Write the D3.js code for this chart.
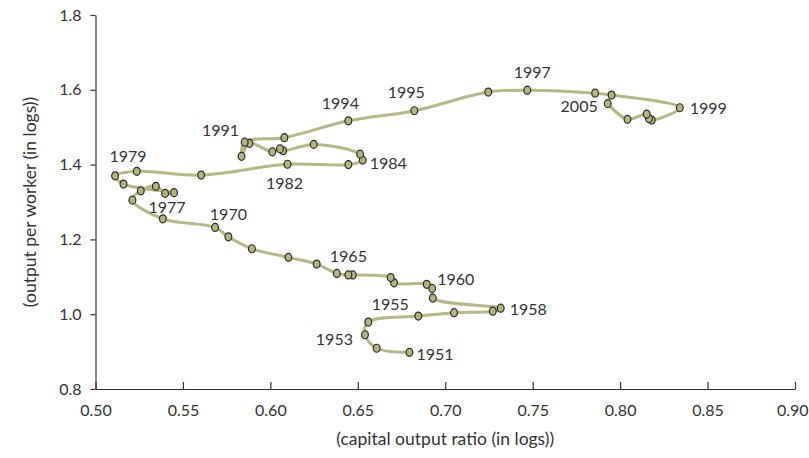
<!DOCTYPE html>
<html>
<head>
<meta charset="utf-8">
<script src="https://cdn.jsdelivr.net/npm/d3@7"></script>
<style>
  html, body { margin: 0; padding: 0; background: #ffffff; }
  svg text { font-family: Lato, "Open Sans", sans-serif; fill: #333333; }
</style>
</head>
<body>
<svg id="chart" width="809" height="458"></svg>
<script>
// Year-by-year path: capital output ratio (x) against output per worker (y), both in logs
const years = [
  1951, 1952, 1953, 1954, 1955, 1956, 1957, 1958, 1959, 1960,
  1961, 1962, 1963, 1964, 1965, 1966, 1967, 1968, 1969, 1970,
  1971, 1972, 1973, 1974, 1975, 1976, 1977, 1978, 1979, 1980,
  1981, 1982, 1983, 1984, 1985, 1986, 1987, 1988, 1989, 1990,
  1991, 1992, 1993, 1994, 1995, 1996, 1997, 1998, 1999, 2000,
  2001, 2002, 2003, 2004, 2005
];
const capitalOutput = [
  0.6795, 0.6608, 0.6541, 0.6560, 0.6846, 0.7050, 0.7272, 0.7317, 0.6929, 0.6925,
  0.6894, 0.6707, 0.6688, 0.6471, 0.6446, 0.6380, 0.6265, 0.6103, 0.5894, 0.5760,
  0.5684, 0.5385, 0.5211, 0.5259, 0.5345, 0.5398, 0.5449, 0.5160, 0.5112, 0.5236,
  0.5604, 0.6098, 0.6446, 0.6528, 0.6513, 0.6248, 0.6073, 0.6055, 0.6011, 0.5880,
  0.5835, 0.5853, 0.6080, 0.6446, 0.6823, 0.7246, 0.7469, 0.7857, 0.7951, 0.8341,
  0.8181, 0.8165, 0.8152, 0.8042, 0.7929
];
const outputPerWorker = [
  0.898, 0.909, 0.945, 0.979, 0.995, 1.004, 1.008, 1.016, 1.043, 1.069,
  1.080, 1.084, 1.098, 1.105, 1.105, 1.109, 1.134, 1.152, 1.175, 1.207,
  1.232, 1.255, 1.305, 1.330, 1.342, 1.323, 1.325, 1.348, 1.370, 1.382,
  1.372, 1.401, 1.400, 1.412, 1.428, 1.454, 1.437, 1.442, 1.434, 1.457,
  1.422, 1.460, 1.472, 1.517, 1.544, 1.594, 1.599, 1.591, 1.586, 1.552,
  1.519, 1.523, 1.535, 1.521, 1.563
];

// Year labels: text, and the year whose point it sits by
const labelText   = ["1951", "1953", "1955", "1958", "1960", "1965", "1970", "1977", "1979",
                     "1982", "1984", "1991", "1994", "1995", "1997", "1999", "2005"];
const labelAnchor = [1951, 1953, 1955, 1958, 1960, 1965, 1970, 1977, 1979,
                     1982, 1984, 1991, 1994, 1995, 1997, 2000, 2005];

const xTicks = [0.50, 0.55, 0.60, 0.65, 0.70, 0.75, 0.80, 0.85, 0.90];
const yTicks = [0.8, 1.0, 1.2, 1.4, 1.6, 1.8];

// Label placement relative to its point: [text-anchor, dx, dy]
const labelPlace = {
  "1951": ["start", 7, 1], "1953": ["end", -12, 4], "1955": ["middle", -28, -13],
  "1958": ["start", 9, 0], "1960": ["start", 5, -10], "1965": ["middle", 0, -19],
  "1970": ["middle", 0, -23], "1977": ["middle", -7, 14], "1979": ["middle", 13, -20],
  "1982": ["middle", -3, 18], "1984": ["start", 7, 2], "1991": ["middle", -21, -27],
  "1994": ["middle", -8, -18], "1995": ["middle", -8, -19], "1997": ["middle", 5, -19],
  "1999": ["start", 10, 0], "2005": ["end", -10, 2]
};

const svg = d3.select("#chart");
const plotLeft = 95.5, plotRight = 795, plotTop = 15, plotBottom = 389;

const x = d3.scaleLinear().domain([0.5, 0.9]).range([plotLeft, plotRight]);
const y = d3.scaleLinear().domain([0.8, 1.8]).range([plotBottom, plotTop]);

const points = years.map((yr, i) => ({ year: yr, cx: capitalOutput[i], ow: outputPerWorker[i] }));

// Axes
const xAxis = d3.axisBottom(x).tickValues(xTicks).tickFormat(d3.format(".2f"))
  .tickSizeInner(-7).tickSizeOuter(0).tickPadding(16);
const yAxis = d3.axisLeft(y).tickValues(yTicks).tickFormat(d3.format(".1f"))
  .tickSizeInner(5).tickSizeOuter(0).tickPadding(9);

const gx = svg.append("g").attr("transform", `translate(0,${plotBottom})`).call(xAxis);
const gy = svg.append("g").attr("transform", `translate(${plotLeft},0)`).call(yAxis);

[gx, gy].forEach(g => {
  g.select(".domain").attr("stroke", "#333").attr("stroke-width", 1.2);
  g.selectAll(".tick line").attr("stroke", "#333").attr("stroke-width", 1.2);
  g.selectAll(".tick text").style("font-family", "Lato, 'Open Sans', sans-serif")
    .style("font-size", "16px").attr("fill", "#333");
});
// keep the last x tick label inside the page edge
gx.selectAll(".tick text").filter(d => d === 0.90).attr("text-anchor", "end").attr("dx", "13");

// Axis titles
svg.append("text")
  .attr("x", (plotLeft + plotRight) / 2).attr("y", 445)
  .attr("text-anchor", "middle")
  .style("font-size", "17.5px")
  .text("(capital output ratio (in logs))");

svg.append("text")
  .attr("transform", `translate(36,${(plotTop + plotBottom) / 2}) rotate(-90)`)
  .attr("text-anchor", "middle")
  .style("font-size", "17.5px")
  .text("(output per worker (in logs))");

// Connecting curve
const line = d3.line()
  .x(d => x(d.cx)).y(d => y(d.ow))
  .curve(d3.curveCatmullRom.alpha(0.5));

svg.append("path")
  .datum(points)
  .attr("d", line)
  .attr("fill", "none")
  .attr("stroke", "#b7b883")
  .attr("stroke-width", 3);

// Yearly markers
svg.append("g").selectAll("ellipse")
  .data(points)
  .join("ellipse")
  .attr("cx", d => x(d.cx))
  .attr("cy", d => y(d.ow))
  .attr("rx", 3.4).attr("ry", 4)
  .attr("fill", "#b4b57a")
  .attr("stroke", "#2b2b2b")
  .attr("stroke-width", 1.2);

// Year labels
const byYear = new Map(points.map(p => [p.year, p]));
svg.append("g").selectAll("text")
  .data(labelText.map((t, i) => ({ t, p: byYear.get(labelAnchor[i]) })))
  .join("text")
  .attr("x", d => x(d.p.cx) + labelPlace[d.t][1])
  .attr("y", d => y(d.p.ow) + labelPlace[d.t][2])
  .attr("text-anchor", d => labelPlace[d.t][0])
  .attr("dominant-baseline", "central")
  .style("font-size", "16px")
  .text(d => d.t);
</script>
</body>
</html>
